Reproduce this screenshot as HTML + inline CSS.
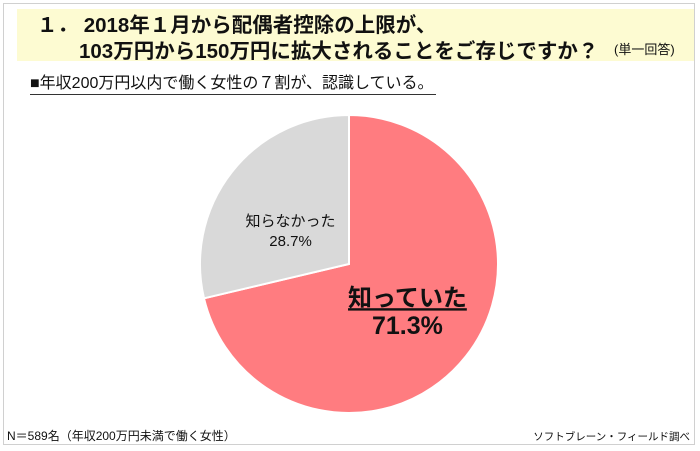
<!DOCTYPE html>
<html><head><meta charset="utf-8"><style>
body{margin:0;width:700px;height:451px;background:#fff;font-family:"Liberation Sans","Noto Sans CJK JP",sans-serif;overflow:hidden;position:relative}
#frame{position:absolute;left:3px;top:3px;width:692px;height:442px;border:1px solid #d0d0d0;box-sizing:border-box}
#titlebg{position:absolute;left:17px;top:9px;width:677px;height:52px;background:#fdfbd2}
.t{position:absolute;color:#111;white-space:nowrap}
</style></head><body>
<div id="frame"></div>
<div id="titlebg"></div>
<div class="t" style="left:37px;top:8px;font-size:20.5px;font-weight:bold">１．&nbsp;2018年１月から配偶者控除の上限が、</div>
<div class="t" style="left:79px;top:34px;font-size:20.5px;font-weight:bold">103万円から150万円に拡大されることをご存じですか？</div>
<div class="t" style="left:614px;top:39px;font-size:13px">(単一回答)</div>
<div class="t" style="left:30px;top:74px;font-size:16px;border-bottom:1px solid #333;padding-right:2px;line-height:20px">■年収200万円以内で働く女性の７割が、認識している。</div>
<svg id="chart" width="700" height="451" style="position:absolute;left:0;top:0"></svg>
<div class="t" style="left:7px;top:427px;font-size:12px">N＝589名（年収200万円未満で働く女性）</div>
<div class="t" style="right:10px;top:429px;font-size:10.5px">ソフトブレーン・フィールド調べ</div>
<script>
const categories=["知っていた","知らなかった"];
const values=[71.3,28.7];
const colors=["#ff7c80","#d9d9d9"];
const svg=document.getElementById('chart');
const NS="http://www.w3.org/2000/svg";
const cx=349,cy=264,r=149;
const total=values.reduce((a,b)=>a+b,0);
let a0=0;
function pt(a,rr){return [cx+rr*Math.sin(a),cy-rr*Math.cos(a)];}
values.forEach((v,i)=>{
  const a1=a0+v/total*2*Math.PI;
  const p0=pt(a0,r),p1=pt(a1,r);
  const large=(a1-a0)>Math.PI?1:0;
  const p=document.createElementNS(NS,'path');
  p.setAttribute('d',`M${cx},${cy}L${p0[0]},${p0[1]}A${r},${r} 0 ${large} 1 ${p1[0]},${p1[1]}Z`);
  p.setAttribute('fill',colors[i]);p.setAttribute('stroke','#fff');p.setAttribute('stroke-width','2');
  
  
  svg.appendChild(p);
  const mid=(a0+a1)/2;
  const big=i===0;
  const lp=pt(mid,big?r*0.5:r*0.5);
  const yAdj=big?0:12;
  const t1=document.createElementNS(NS,'text');
  t1.setAttribute('x',lp[0]);t1.setAttribute('y',lp[1]+yAdj-(big?4:4));
  t1.setAttribute('text-anchor','middle');
  t1.setAttribute('font-size',big?'24':'15');
  if(big){t1.setAttribute('font-weight','bold');t1.setAttribute('text-decoration','underline');}
  t1.setAttribute('fill','#111');
  t1.textContent=categories[i];
  
  
  svg.appendChild(t1);
  const t2=document.createElementNS(NS,'text');
  t2.setAttribute('x',lp[0]);t2.setAttribute('y',lp[1]+yAdj+(big?24:16));
  t2.setAttribute('text-anchor','middle');
  t2.setAttribute('font-size',big?'25':'15');
  if(big)t2.setAttribute('font-weight','bold');
  t2.setAttribute('fill','#111');
  t2.textContent=v.toFixed(1)+'%';
  
  
  svg.appendChild(t2);
  a0=a1;
});
</script>
</body></html>
